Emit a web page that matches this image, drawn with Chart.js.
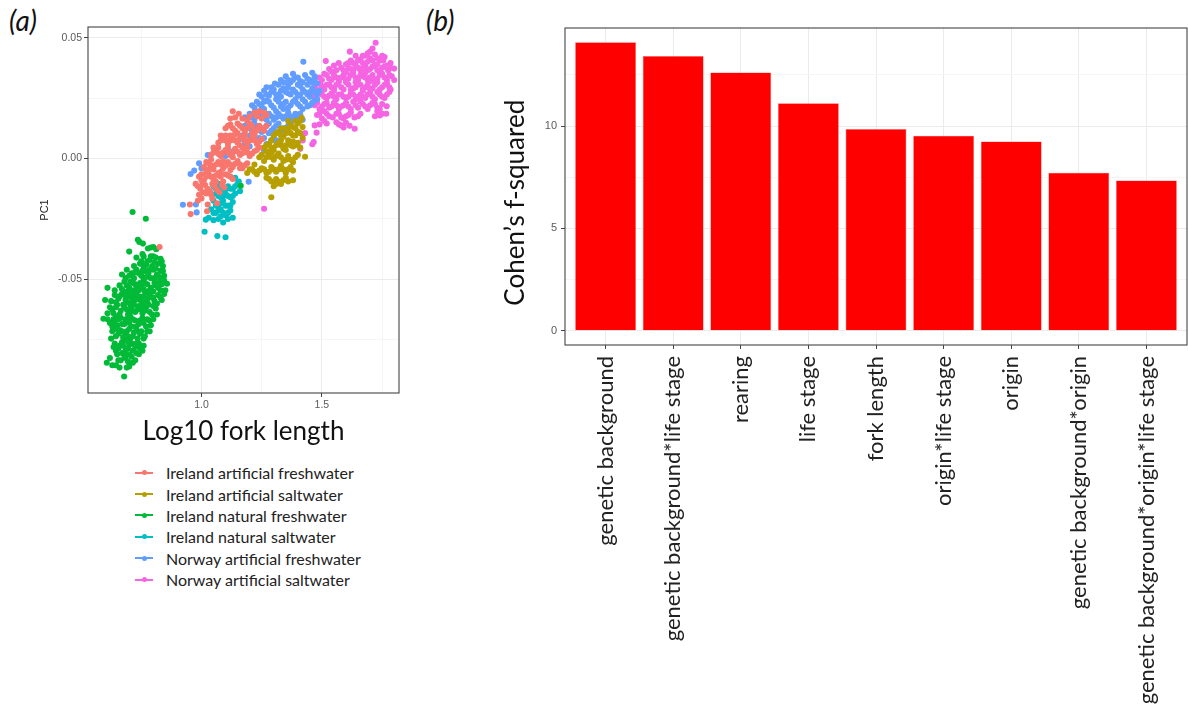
<!DOCTYPE html>
<html>
<head>
<meta charset="utf-8">
<script src="https://cdn.jsdelivr.net/npm/chart.js@4/dist/chart.umd.min.js"></script>
<style>
  body { margin: 0; background: #fff; width: 1188px; height: 711px; overflow: hidden; position: relative; font-family: 'Lato', 'Liberation Sans', sans-serif; }
  #pca-chart { position: absolute; left: 0; top: 0; }
  #effect-chart { position: absolute; left: 470px; top: 0; }
  .panel-tag { position: absolute; font-size: 28px; font-style: italic; color: #111; line-height: 30px; }
  #pca-legend { position: absolute; left: 135px; top: 462px; }
  .leg-row { height: 21.4px; display: flex; align-items: center; font-size: 16px; color: #222; }
  .leg-key { position: relative; width: 18px; height: 10px; margin-right: 13px; }
  .leg-key .ln { position: absolute; left: 0; top: 4px; width: 18px; height: 2px; }
  .leg-key .dt { position: absolute; left: 6.5px; top: 2.5px; width: 5px; height: 5px; border-radius: 50%; }
</style>
</head>
<body>
<div class="panel-tag" style="left:9px;top:5px;">(a)</div>
<div class="panel-tag" style="left:426px;top:5px;">(b)</div>
<canvas id="pca-chart" width="420" height="455"></canvas>
<div id="pca-legend"></div>
<canvas id="effect-chart" width="718" height="711"></canvas>
<script>
// panel (a): PC1 against log10 fork length, one list of [x, y] per group
var groupNames = [
    'Ireland artificial freshwater',
    'Ireland artificial saltwater',
    'Ireland natural freshwater',
    'Ireland natural saltwater',
    'Norway artificial freshwater',
    'Norway artificial saltwater'
];
var groupColors = ['#F8766D', '#B79F00', '#00BA38', '#00BFC4', '#619CFF', '#F564E3'];

var irelandArtFresh = [
    [1.13,0.0195],[1.155,0.0185],[1.20,0.0175],[1.22,0.019],[1.25,0.0165],[1.27,0.018],[1.24,0.0195],
    [1.14,0.017],[1.17,0.0165],[1.19,0.0155],[1.23,0.0175],[1.26,0.019],[1.12,0.0165],
    [1.10,0.0125],[1.12,0.014],[1.14,0.0115],[1.16,0.0135],[1.18,0.011],[1.20,0.0145],[1.22,0.012],[1.24,0.0135],[1.26,0.0115],[1.15,0.0105],[1.21,0.0105],
    [1.11,0.0135],[1.13,0.0125],[1.15,0.0145],[1.17,0.0125],[1.19,0.0125],[1.21,0.0135],[1.23,0.0115],[1.25,0.0125],[1.27,0.0135],
    [1.07,0.0065],[1.09,0.008],[1.11,0.006],[1.13,0.0085],[1.15,0.0065],[1.17,0.009],[1.19,0.0065],[1.21,0.0085],[1.23,0.006],[1.25,0.008],[1.10,0.0095],[1.16,0.0055],[1.22,0.0095],[1.14,0.010],
    [1.08,0.0075],[1.10,0.0075],[1.12,0.0075],[1.14,0.0075],[1.16,0.0085],[1.18,0.0075],[1.20,0.0075],[1.22,0.0075],[1.24,0.007],[1.08,0.0095],[1.12,0.0095],[1.18,0.0095],
    [1.04,0.0015],[1.06,0.003],[1.08,0.001],[1.10,0.0035],[1.12,0.0015],[1.14,0.004],[1.16,0.0015],[1.18,0.0035],[1.20,0.001],[1.22,0.003],[1.24,0.0045],[1.07,0.0045],[1.13,0.0005],[1.19,0.0045],
    [1.05,0.0025],[1.07,0.002],[1.09,0.0025],[1.11,0.0025],[1.13,0.0025],[1.15,0.0028],[1.17,0.0022],[1.19,0.0025],[1.21,0.002],[1.23,0.0035],[1.05,0.0045],[1.11,0.0045],[1.17,0.0045],
    [1.01,-0.0035],[1.03,-0.002],[1.05,-0.0045],[1.07,-0.0015],[1.09,-0.004],[1.11,-0.0015],[1.13,-0.0035],[1.15,-0.001],[1.17,-0.004],[1.19,-0.002],[1.04,-0.0005],[1.12,-0.0048],[1.16,-0.0025],
    [1.02,-0.0015],[1.04,-0.003],[1.06,-0.0025],[1.08,-0.0025],[1.10,-0.003],[1.12,-0.0025],[1.14,-0.0022],[1.16,-0.004],[1.18,-0.0028],[1.03,-0.0045],[1.09,-0.0012],
    [0.99,-0.0075],[1.01,-0.009],[1.03,-0.0065],[1.05,-0.0085],[1.07,-0.006],[1.09,-0.0095],[1.11,-0.007],[1.13,-0.0085],[1.02,-0.0055],[1.08,-0.0055],
    [1.00,-0.0065],[1.02,-0.0075],[1.04,-0.0075],[1.06,-0.007],[1.08,-0.0075],[1.10,-0.0065],[1.12,-0.0075],[1.00,-0.009],[1.06,-0.0095],
    [0.976,-0.0105],[0.995,-0.0125],[1.015,-0.011],[1.035,-0.0135],[1.055,-0.0115],[1.075,-0.014],[1.095,-0.012],[1.02,-0.0145],
    [0.985,-0.0115],[1.005,-0.0105],[1.025,-0.0125],[1.045,-0.0105],[1.065,-0.013],[1.085,-0.011],[1.005,-0.014],[0.99,-0.015],[1.04,-0.015],
    [1.00,-0.0165],[1.026,-0.019],[1.045,-0.0165],[0.985,-0.0175],[0.955,-0.023],[1.023,-0.0218],[0.952,-0.019],[1.065,-0.0185],[0.826,-0.0366]
];
var irelandArtSalt = [
    [1.416,0.0168],[1.40,0.0145],[1.38,0.013],[1.42,0.013],[1.36,0.0155],[1.39,0.0155],[1.41,0.0155],[1.37,0.0135],
    [1.30,0.0095],[1.32,0.011],[1.34,0.009],[1.36,0.0115],[1.38,0.0095],[1.40,0.011],[1.42,0.0085],[1.33,0.0125],[1.39,0.0125],
    [1.31,0.0105],[1.33,0.0095],[1.35,0.0105],[1.37,0.0105],[1.39,0.0095],[1.41,0.0105],[1.35,0.0125],
    [1.26,0.0045],[1.28,0.006],[1.30,0.0035],[1.32,0.0065],[1.34,0.004],[1.36,0.0075],[1.38,0.005],[1.40,0.0065],[1.29,0.0075],[1.35,0.0055],
    [1.27,0.0055],[1.29,0.0045],[1.31,0.0055],[1.33,0.0055],[1.35,0.0035],[1.37,0.0055],[1.39,0.0055],[1.41,0.0045],[1.33,0.0075],[1.38,0.007],
    [1.24,0.0005],[1.26,-0.001],[1.28,0.0015],[1.30,-0.0005],[1.32,0.002],[1.34,-0.001],[1.36,0.001],[1.38,-0.0015],[1.40,0.0015],[1.43,0.0007],[1.27,0.003],
    [1.25,0.0015],[1.27,0.0005],[1.29,0.0005],[1.31,0.001],[1.33,0.0005],[1.35,-0.0005],[1.37,-0.0005],[1.39,0.0005],[1.29,0.0025],
    [1.19,-0.006],[1.21,-0.0045],[1.23,-0.0065],[1.25,-0.004],[1.27,-0.006],[1.29,-0.0035],[1.31,-0.0055],[1.33,-0.003],[1.35,-0.006],[1.37,-0.0035],[1.22,-0.0025],
    [1.20,-0.0045],[1.22,-0.0055],[1.24,-0.005],[1.26,-0.0045],[1.28,-0.0055],[1.30,-0.0045],[1.32,-0.0045],[1.34,-0.0045],[1.36,-0.0045],[1.38,-0.005],
    [1.27,-0.008],[1.29,-0.0095],[1.31,-0.0085],[1.33,-0.0105],[1.35,-0.008],[1.38,-0.009],[1.30,-0.0115],
    [1.28,-0.0085],[1.30,-0.0095],[1.32,-0.0095],[1.34,-0.009],[1.36,-0.0095],[1.31,-0.0105],
    [1.29,-0.016]
];
var irelandNatFresh = [
    [0.714,-0.0221],[0.769,-0.0249],[0.736,-0.0336],[0.742,-0.0345],[0.757,-0.0352],[0.778,-0.0372],[0.79,-0.0368],[0.80,-0.0366],[0.812,-0.0375],[0.70,-0.0385],[0.755,-0.0395],
    [0.73,-0.041],[0.76,-0.0405],[0.785,-0.042],[0.81,-0.041],[0.83,-0.0415],[0.745,-0.0435],[0.77,-0.044],[0.795,-0.0445],[0.82,-0.0435],[0.84,-0.0445],[0.72,-0.0445],[0.75,-0.0425],[0.80,-0.0405],
    [0.775,-0.0425],[0.805,-0.043],[0.835,-0.0425],[0.76,-0.0445],[0.79,-0.0405],
    [0.69,-0.046],[0.71,-0.0475],[0.73,-0.046],[0.75,-0.0485],[0.765,-0.0465],[0.78,-0.0475],[0.80,-0.046],[0.815,-0.048],[0.83,-0.0465],[0.845,-0.0485],[0.72,-0.0495],[0.74,-0.0475],[0.79,-0.0495],[0.81,-0.0455],[0.76,-0.050],[0.67,-0.048],
    [0.70,-0.0485],[0.725,-0.047],[0.755,-0.0465],[0.77,-0.049],[0.805,-0.0495],[0.825,-0.049],[0.84,-0.0465],[0.685,-0.0495],[0.785,-0.046],
    [0.66,-0.0525],[0.68,-0.051],[0.70,-0.0535],[0.715,-0.0515],[0.73,-0.0535],[0.745,-0.0515],[0.76,-0.054],[0.775,-0.052],[0.79,-0.0535],[0.805,-0.0515],[0.82,-0.0535],[0.835,-0.052],[0.857,-0.0518],[0.85,-0.0545],[0.69,-0.055],[0.74,-0.0545],[0.80,-0.055],[0.61,-0.0535],
    [0.67,-0.054],[0.69,-0.0525],[0.705,-0.051],[0.725,-0.052],[0.75,-0.0525],[0.765,-0.0515],[0.785,-0.0545],[0.81,-0.0525],[0.825,-0.051],[0.845,-0.0505],[0.71,-0.0545],[0.765,-0.055],[0.83,-0.0545],[0.64,-0.0545],
    [0.64,-0.0565],[0.655,-0.058],[0.67,-0.056],[0.685,-0.0585],[0.70,-0.057],[0.715,-0.0595],[0.73,-0.0565],[0.745,-0.0585],[0.76,-0.057],[0.775,-0.0595],[0.79,-0.0575],[0.805,-0.059],[0.82,-0.0565],[0.835,-0.0585],[0.72,-0.0555],[0.775,-0.0555],[0.60,-0.0585],[0.625,-0.059],
    [0.645,-0.0595],[0.66,-0.057],[0.68,-0.0565],[0.695,-0.0595],[0.71,-0.0575],[0.725,-0.0585],[0.74,-0.057],[0.755,-0.0595],[0.77,-0.058],[0.785,-0.0565],[0.80,-0.0575],[0.815,-0.060],[0.83,-0.0575],[0.70,-0.0555],[0.845,-0.056],
    [0.62,-0.0615],[0.635,-0.064],[0.65,-0.0605],[0.665,-0.063],[0.68,-0.0615],[0.695,-0.0645],[0.71,-0.062],[0.725,-0.0635],[0.74,-0.061],[0.755,-0.064],[0.77,-0.0615],[0.785,-0.0635],[0.80,-0.061],[0.815,-0.0645],[0.593,-0.0663],[0.705,-0.0605],[0.76,-0.0605],
    [0.63,-0.0625],[0.645,-0.0615],[0.66,-0.0645],[0.675,-0.0605],[0.69,-0.0625],[0.705,-0.0635],[0.72,-0.0605],[0.735,-0.0625],[0.75,-0.0625],[0.765,-0.063],[0.78,-0.0605],[0.795,-0.0645],[0.81,-0.062],[0.61,-0.064],
    [0.62,-0.068],[0.635,-0.0665],[0.65,-0.069],[0.665,-0.066],[0.68,-0.0685],[0.695,-0.0665],[0.71,-0.0695],[0.725,-0.067],[0.74,-0.0685],[0.755,-0.066],[0.77,-0.0695],[0.785,-0.067],[0.80,-0.0665],[0.645,-0.0655],[0.705,-0.0655],
    [0.63,-0.0695],[0.64,-0.0675],[0.655,-0.0665],[0.67,-0.0685],[0.685,-0.0665],[0.70,-0.068],[0.715,-0.0665],[0.73,-0.0695],[0.745,-0.067],[0.76,-0.068],[0.775,-0.0665],[0.79,-0.069],[0.61,-0.0665],
    [0.63,-0.0715],[0.645,-0.0735],[0.66,-0.071],[0.675,-0.074],[0.69,-0.0715],[0.705,-0.0745],[0.72,-0.072],[0.735,-0.0745],[0.75,-0.0715],[0.765,-0.0735],[0.785,-0.0715],[0.70,-0.0705],
    [0.64,-0.0705],[0.655,-0.0725],[0.67,-0.0715],[0.685,-0.0725],[0.695,-0.0735],[0.715,-0.0735],[0.73,-0.071],[0.745,-0.0725],[0.76,-0.0745],[0.775,-0.0715],[0.625,-0.0745],
    [0.64,-0.0765],[0.655,-0.0785],[0.67,-0.076],[0.685,-0.0795],[0.70,-0.077],[0.715,-0.0795],[0.73,-0.0765],[0.745,-0.0785],[0.76,-0.0775],[0.69,-0.0755],
    [0.645,-0.0795],[0.66,-0.0775],[0.675,-0.0775],[0.695,-0.0785],[0.71,-0.0765],[0.725,-0.078],[0.74,-0.0765],[0.755,-0.0795],[0.635,-0.078],
    [0.65,-0.081],[0.665,-0.0835],[0.68,-0.0815],[0.695,-0.084],[0.71,-0.082],[0.725,-0.0835],[0.74,-0.081],[0.607,-0.0845],[0.62,-0.0825],[0.63,-0.0855],[0.66,-0.0865],[0.70,-0.086],[0.679,-0.0902],
    [0.655,-0.0835],[0.67,-0.0805],[0.685,-0.0825],[0.70,-0.081],[0.715,-0.0845],[0.73,-0.0805],[0.645,-0.0855],[0.69,-0.0865],
    [1.163,-0.0113]
];
var irelandNatSalt = [
    [1.05,-0.0115],[1.07,-0.0105],[1.09,-0.013],[1.11,-0.0115],[1.13,-0.0125],[1.15,-0.0105],[1.06,-0.0145],[1.08,-0.016],[1.10,-0.0145],[1.12,-0.016],[1.14,-0.0145],[1.16,-0.0135],
    [1.06,-0.0125],[1.08,-0.0115],[1.10,-0.0125],[1.12,-0.0125],[1.14,-0.0115],[1.07,-0.0155],[1.09,-0.0155],[1.11,-0.0155],[1.13,-0.0155],
    [1.05,-0.0175],[1.07,-0.019],[1.09,-0.0175],[1.11,-0.0195],[1.13,-0.018],[1.04,-0.021],[1.06,-0.0225],[1.08,-0.021],[1.10,-0.0235],[1.12,-0.0215],
    [1.06,-0.0195],[1.08,-0.0185],[1.10,-0.0195],[1.12,-0.0195],[1.05,-0.0225],[1.07,-0.0215],[1.09,-0.0225],[1.11,-0.0225],
    [1.03,-0.0245],[1.07,-0.025],[1.09,-0.0265],[1.018,-0.0253],[1.13,-0.0245],[1.05,-0.0255],[1.08,-0.024],[1.11,-0.025],
    [1.013,-0.0303],[1.066,-0.0321],[1.10,-0.0326],[1.155,-0.0095],[1.14,-0.008]
];
var norwayArtFresh = [
    [1.423,0.0400],
    [1.33,0.0325],[1.35,0.034],[1.37,0.0315],[1.39,0.0335],[1.41,0.032],[1.43,0.0345],[1.45,0.0325],[1.47,0.034],[1.48,0.031],[1.36,0.0305],[1.40,0.0305],[1.44,0.0305],[1.305,0.031],[1.46,0.0355],[1.38,0.035],
    [1.34,0.0315],[1.36,0.0325],[1.38,0.0325],[1.40,0.0335],[1.42,0.0315],[1.44,0.033],[1.46,0.0315],[1.32,0.0305],[1.47,0.0325],
    [1.24,0.0265],[1.26,0.028],[1.28,0.026],[1.30,0.0285],[1.32,0.0265],[1.34,0.029],[1.36,0.027],[1.38,0.0285],[1.40,0.026],[1.42,0.0285],[1.44,0.0265],[1.46,0.029],[1.48,0.0265],[1.27,0.0295],[1.33,0.0255],[1.41,0.030],[1.45,0.0255],[1.49,0.028],
    [1.25,0.0255],[1.27,0.0265],[1.29,0.0275],[1.31,0.0265],[1.33,0.028],[1.35,0.0275],[1.37,0.0265],[1.39,0.0275],[1.41,0.0265],[1.43,0.0275],[1.45,0.0275],[1.47,0.0275],[1.29,0.0295],[1.36,0.0295],
    [1.21,0.022],[1.23,0.0235],[1.25,0.0215],[1.27,0.024],[1.29,0.022],[1.31,0.0245],[1.33,0.0215],[1.35,0.0235],[1.37,0.022],[1.39,0.0245],[1.41,0.0215],[1.43,0.0235],[1.45,0.022],[1.47,0.024],[1.26,0.0205],[1.34,0.0205],[1.42,0.0205],
    [1.22,0.021],[1.24,0.0225],[1.26,0.0235],[1.28,0.0235],[1.30,0.021],[1.32,0.0235],[1.34,0.0225],[1.36,0.021],[1.38,0.0235],[1.40,0.0225],[1.42,0.0245],[1.44,0.0215],[1.46,0.023],[1.48,0.0245],
    [1.18,0.017],[1.20,0.0185],[1.22,0.016],[1.24,0.0195],[1.26,0.017],[1.28,0.0185],[1.30,0.016],[1.32,0.0185],[1.34,0.0165],[1.36,0.019],[1.38,0.0165],[1.40,0.0175],[1.42,0.016],[1.31,0.0195],
    [1.19,0.0165],[1.21,0.017],[1.23,0.0175],[1.25,0.0185],[1.27,0.016],[1.29,0.0175],[1.31,0.017],[1.33,0.0175],[1.35,0.0175],[1.37,0.0175],[1.39,0.0185],[1.41,0.0185],
    [1.175,0.0125],[1.19,0.014],[1.21,0.0115],[1.23,0.0135],[1.25,0.011],[1.27,0.0135],[1.29,0.0115],[1.31,0.0135],[1.33,0.011],[1.35,0.0125],[1.37,0.0145],[1.28,0.0105],
    [1.18,0.0135],[1.20,0.0125],[1.22,0.014],[1.24,0.012],[1.26,0.0125],[1.28,0.0145],[1.30,0.0125],[1.32,0.0145],[1.34,0.0125],[1.36,0.0135],
    [1.16,0.008],[1.19,0.0065],[1.24,0.0085],[1.27,0.006],[1.30,0.0085],[1.32,0.006],[1.22,0.0095],
    [1.17,0.0095],[1.20,0.0095],[1.26,0.0085],[1.29,0.0075],[1.18,0.006],
    [1.26,0.0034],[1.31,0.0075],[1.13,0.003],[1.10,0.001],[1.026,0.0014],[0.99,-0.002],[1.00,-0.004],[0.955,-0.0064],[0.97,-0.005],
    [0.923,-0.0191],[0.977,-0.0190],[0.98,-0.0223],[1.196,-0.0096],[1.04,-0.003],[1.07,0.002],[1.20,0.005]
];
var norwayArtSalt = [
    [1.723,0.0479],[1.616,0.0442],[1.70,0.0442],[1.71,0.0455],[1.516,0.0403],[1.80,0.0372],[1.785,0.0395],[1.64,0.0425],
    [1.66,0.041],[1.68,0.0425],[1.70,0.0415],[1.72,0.043],[1.74,0.0405],[1.76,0.042],[1.65,0.0405],[1.69,0.040],[1.73,0.0415],[1.62,0.0405],[1.755,0.0405],
    [1.67,0.0425],[1.71,0.0405],[1.75,0.0425],[1.63,0.0395],[1.69,0.0435],
    [1.58,0.0375],[1.60,0.039],[1.62,0.037],[1.64,0.0385],[1.66,0.0365],[1.68,0.0385],[1.70,0.037],[1.72,0.0385],[1.74,0.0365],[1.76,0.038],[1.775,0.0365],[1.53,0.037],[1.55,0.0385],[1.57,0.0395],[1.61,0.0395],[1.67,0.0395],[1.73,0.039],
    [1.59,0.0365],[1.61,0.0375],[1.63,0.0365],[1.65,0.0375],[1.67,0.0375],[1.69,0.0365],[1.71,0.038],[1.73,0.0365],[1.75,0.0375],[1.77,0.0385],[1.54,0.036],[1.56,0.0365],[1.785,0.0375],
    [1.49,0.0335],[1.51,0.035],[1.53,0.033],[1.55,0.0345],[1.57,0.0325],[1.59,0.0345],[1.61,0.033],[1.63,0.0355],[1.65,0.0325],[1.67,0.034],[1.69,0.0325],[1.71,0.0345],[1.73,0.033],[1.75,0.035],[1.77,0.0325],[1.79,0.034],[1.60,0.0355],[1.68,0.0355],[1.74,0.0355],
    [1.50,0.0325],[1.52,0.0345],[1.54,0.0325],[1.56,0.0335],[1.58,0.0335],[1.60,0.0325],[1.62,0.0345],[1.64,0.0335],[1.66,0.0345],[1.68,0.0335],[1.70,0.0335],[1.72,0.0325],[1.74,0.0345],[1.76,0.0335],[1.78,0.0345],[1.80,0.0325],
    [1.47,0.0295],[1.49,0.031],[1.51,0.0285],[1.53,0.0305],[1.55,0.029],[1.57,0.0315],[1.59,0.0285],[1.61,0.0305],[1.63,0.029],[1.65,0.031],[1.67,0.0285],[1.69,0.0305],[1.71,0.029],[1.73,0.0315],[1.75,0.0295],[1.77,0.031],[1.785,0.0285],[1.64,0.0315],[1.70,0.032],
    [1.48,0.0285],[1.50,0.030],[1.52,0.0305],[1.54,0.0295],[1.56,0.0305],[1.58,0.0295],[1.60,0.0315],[1.62,0.0285],[1.64,0.0295],[1.66,0.0305],[1.68,0.0295],[1.70,0.0285],[1.72,0.0305],[1.74,0.0285],[1.76,0.0305],[1.78,0.0295],
    [1.46,0.026],[1.48,0.0245],[1.50,0.0265],[1.52,0.025],[1.54,0.027],[1.56,0.0245],[1.58,0.0265],[1.60,0.025],[1.62,0.027],[1.64,0.0245],[1.66,0.0265],[1.68,0.025],[1.70,0.027],[1.72,0.0245],[1.74,0.0265],[1.76,0.025],[1.78,0.0275],[1.55,0.028],[1.67,0.028],
    [1.47,0.0255],[1.49,0.027],[1.51,0.0255],[1.53,0.026],[1.55,0.0255],[1.57,0.0265],[1.59,0.0255],[1.61,0.0255],[1.63,0.0265],[1.65,0.0255],[1.67,0.0255],[1.69,0.0265],[1.71,0.0255],[1.73,0.0275],[1.75,0.0255],[1.77,0.0265],
    [1.47,0.022],[1.49,0.0205],[1.51,0.0225],[1.53,0.021],[1.55,0.023],[1.57,0.0205],[1.59,0.022],[1.61,0.0215],[1.63,0.0235],[1.65,0.021],[1.67,0.0225],[1.69,0.0205],[1.71,0.023],[1.73,0.021],[1.75,0.0225],[1.769,0.0216],
    [1.48,0.023],[1.50,0.0215],[1.52,0.023],[1.54,0.0215],[1.56,0.022],[1.58,0.0215],[1.60,0.023],[1.62,0.0205],[1.64,0.022],[1.66,0.0235],[1.68,0.0215],[1.70,0.022],[1.72,0.0225],[1.74,0.0205],
    [1.48,0.018],[1.50,0.0165],[1.52,0.0185],[1.545,0.017],[1.57,0.0185],[1.59,0.0165],[1.61,0.018],[1.635,0.017],[1.66,0.0185],[1.72,0.0175],[1.74,0.0178],[1.767,0.0185],
    [1.49,0.0185],[1.51,0.0195],[1.53,0.0175],[1.56,0.0185],[1.58,0.017],[1.60,0.0175],[1.62,0.019],[1.65,0.0175],[1.73,0.0195],[1.75,0.0185],
    [1.571,0.0141],[1.59,0.0128],[1.615,0.0135],[1.636,0.0123],[1.58,0.0137],[1.49,0.0141],[1.478,0.0107],[1.47,0.0137],[1.52,0.0145],[1.43,0.0105],
    [1.56,0.015],[1.60,0.0148],[1.51,0.0155],
    [1.46,0.0059],[1.466,0.0068],[1.41,0.004],[1.42,0.0075],[1.26,-0.0208]
];
var groupPoints = [irelandArtFresh, irelandArtSalt, irelandNatFresh, irelandNatSalt, norwayArtFresh, norwayArtSalt];

// panel (b): effect sizes
var effectTerms = [
    'genetic background',
    'genetic background*life stage',
    'rearing',
    'life stage',
    'fork length',
    'origin*life stage',
    'origin',
    'genetic background*origin',
    'genetic background*origin*life stage'
];
var cohenF2 = [14.09, 13.42, 12.62, 11.11, 9.85, 9.53, 9.25, 7.72, 7.34];

var tickGrey = '#5a5a5a';
var gridMajor = '#EBEBEB';
var gridMinor = '#F5F5F5';

var panelFrame = {
    id: 'panelFrame',
    afterDatasetsDraw: function(chart) {
        var a = chart.chartArea, c = chart.ctx;
        c.save();
        c.strokeStyle = '#444';
        c.lineWidth = 1.1;
        c.strokeRect(a.left, a.top, a.right - a.left, a.bottom - a.top);
        c.restore();
    }
};

function isMajor(v, step) { return Math.abs(Math.round(v / step)) % 2 === 0; }

var pcaChart = new Chart(document.getElementById('pca-chart'), {
    type: 'scatter',
    data: {
        datasets: groupNames.map(function(name, i) {
            return {
                label: name,
                data: groupPoints[i].map(function(p) { return { x: p[0], y: p[1] }; }),
                backgroundColor: groupColors[i],
                borderWidth: 0,
                pointRadius: 3.05,
                order: i
            };
        })
    },
    options: {
        responsive: false,
        animation: false,
        layout: { padding: { top: 27, right: 21, left: 0, bottom: 0 } },
        plugins: { legend: { display: false }, tooltip: { enabled: false } },
        scales: {
            x: {
                type: 'linear', min: 0.529, max: 1.82,
                afterFit: function(s) { s.height = 62; },
                border: { display: false },
                grid: {
                    color: function(c) { return c.tick && isMajor(c.tick.value, 0.25) ? gridMajor : gridMinor; },
                    tickLength: 4,
                    tickColor: function(c) { return c.tick && isMajor(c.tick.value, 0.25) ? '#444' : 'rgba(0,0,0,0)'; }
                },
                ticks: {
                    stepSize: 0.25, includeBounds: false, autoSkip: false, maxRotation: 0, padding: 2,
                    color: tickGrey, font: { family: 'Liberation Sans', size: 10.5 },
                    callback: function(v) { return isMajor(v, 0.25) ? v.toFixed(1) : ''; }
                },
                title: { display: true, text: 'Log10 fork length', color: '#111',
                         font: { family: 'Lato', size: 26 }, padding: { top: 0, bottom: 8 } }
            },
            y: {
                type: 'linear', min: -0.097, max: 0.0544,
                afterFit: function(s) { s.width = 88; },
                border: { display: false },
                grid: {
                    color: function(c) { return c.tick && isMajor(c.tick.value, 0.025) ? gridMajor : gridMinor; },
                    tickLength: 4,
                    tickColor: function(c) { return c.tick && isMajor(c.tick.value, 0.025) ? '#444' : 'rgba(0,0,0,0)'; }
                },
                ticks: {
                    stepSize: 0.025, includeBounds: false, autoSkip: false, padding: 2,
                    color: tickGrey, font: { family: 'Liberation Sans', size: 10.5 },
                    callback: function(v) { return isMajor(v, 0.025) ? (Math.round(v * 100) / 100).toFixed(2) : ''; }
                },
                title: { display: true, text: 'PC1', color: '#222',
                         font: { family: 'Liberation Sans', size: 11 }, padding: { top: 38, bottom: 0 } }
            }
        }
    },
    plugins: [panelFrame]
});

// legend for panel (a)
var legendBox = document.getElementById('pca-legend');
groupNames.forEach(function(name, i) {
    var row = document.createElement('div');
    row.className = 'leg-row';
    var key = document.createElement('span');
    key.className = 'leg-key';
    var ln = document.createElement('span');
    ln.className = 'ln';
    ln.style.background = groupColors[i];
    var dt = document.createElement('span');
    dt.className = 'dt';
    dt.style.background = groupColors[i];
    key.appendChild(ln);
    key.appendChild(dt);
    var txt = document.createElement('span');
    txt.textContent = name;
    row.appendChild(key);
    row.appendChild(txt);
    legendBox.appendChild(row);
});

var effectChart = new Chart(document.getElementById('effect-chart'), {
    type: 'bar',
    data: {
        datasets: [{
            label: "Cohen's f-squared",
            data: cohenF2.map(function(v, i) { return { x: i + 1, y: v }; }),
            backgroundColor: '#FF0000',
            borderColor: '#FF5a5a',
            borderWidth: 0.6,
            categoryPercentage: 1,
            barPercentage: 0.9
        }]
    },
    options: {
        responsive: false,
        animation: false,
        layout: { padding: { top: 28, right: 1, left: 0, bottom: 0 } },
        plugins: { legend: { display: false }, tooltip: { enabled: false } },
        scales: {
            x: {
                type: 'linear', min: 0.4, max: 9.6, offset: false,
                afterFit: function(s) { s.height = 366; s.paddingLeft = 0; s.paddingRight = 0; },
                border: { display: false },
                grid: { offset: false, color: gridMajor, tickLength: 4, tickColor: '#444' },
                ticks: {
                    stepSize: 1, includeBounds: false, autoSkip: false,
                    minRotation: 90, maxRotation: 90, padding: 7,
                    color: '#222', font: { family: 'Lato', size: 22 },
                    callback: function(v) { return effectTerms[v - 1] || ''; }
                }
            },
            y: {
                min: -0.7, max: 14.79,
                afterFit: function(s) { s.width = 95; },
                border: { display: false },
                grid: {
                    color: function(c) { return c.tick && isMajor(c.tick.value, 2.5) ? gridMajor : gridMinor; },
                    tickLength: 4,
                    tickColor: function(c) { return c.tick && isMajor(c.tick.value, 2.5) ? '#444' : 'rgba(0,0,0,0)'; }
                },
                ticks: {
                    stepSize: 2.5, includeBounds: false, autoSkip: false, padding: 4,
                    color: tickGrey, font: { family: 'Liberation Sans', size: 11 },
                    callback: function(v) { return isMajor(v, 2.5) ? String(Math.round(v)) : ''; }
                },
                title: { display: true, text: 'Cohen\u2019s f-squared\u2003\u2002', color: '#111',
                         font: { family: 'Lato', size: 26 }, padding: { top: 30, bottom: 0 } }
            }
        }
    },
    plugins: [panelFrame]
});
</script>
</body>
</html>
